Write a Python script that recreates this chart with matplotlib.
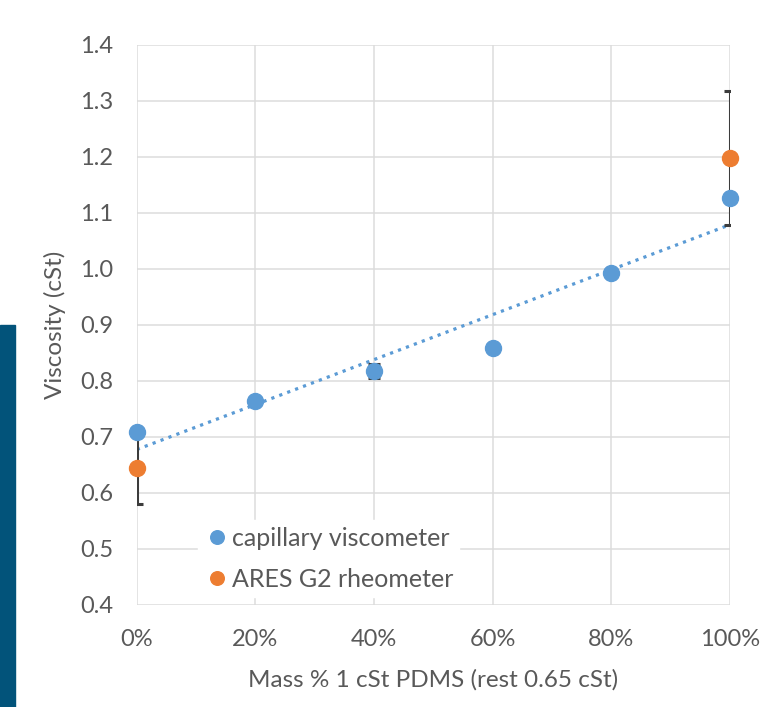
import matplotlib.pyplot as plt
import numpy as np
from matplotlib.patches import Rectangle

plt.rcParams['font.family'] = ['Lato', 'DejaVu Sans']

# mass fraction of 1 cSt PDMS
mass_pct = [0, 20, 40, 60, 80, 100]
cap_visc = [0.709, 0.765, 0.818, 0.859, 0.993, 1.126]
cap_err = [0, 0, 0.013, 0, 0, 0]

ares_pct = [0, 100]
ares_visc = [0.645, 1.198]
ares_err = [0.065, 0.12]

x_ticks = [0, 20, 40, 60, 80, 100]
y_ticks = [0.4, 0.5, 0.6, 0.7, 0.8, 0.9, 1.0, 1.1, 1.2, 1.3, 1.4]

blue = '#5B9BD5'
orange = '#ED7D31'
grey_txt = '#595959'

fig = plt.figure(figsize=(7.6, 7.07), dpi=100)
ax = fig.add_axes([0.180, 0.1443, 0.7805, 0.7921])

# dark side bar on the left edge
fig.patches.append(Rectangle((0, 0), 0.0197, 0.54, transform=fig.transFigure,
                             color='#02537A', zorder=0))

# linear trend of capillary data
k, b = np.polyfit(np.array(mass_pct) / 100, cap_visc, 1)
xs = np.array([0, 100])
ax.plot(xs, b + k * xs / 100, ':', color=blue, lw=2.3, zorder=2)

# error bars (clipped by axes, like the original), markers unclipped
ax.errorbar(mass_pct, cap_visc, yerr=cap_err, fmt='none', ecolor='#3c3c3c',
            elinewidth=2.2, capsize=4.5, capthick=2.2, zorder=3)
ax.errorbar(ares_pct, ares_visc, yerr=ares_err, fmt='none', ecolor='#3c3c3c',
            elinewidth=2.2, capsize=4.5, capthick=2.2, zorder=3)
ax.plot(ares_pct, ares_visc, 'o', color=orange, ms=11.5, clip_on=False,
        zorder=4, label='ARES G2 rheometer')
ax.plot(mass_pct, cap_visc, 'o', color=blue, ms=11.5, clip_on=False,
        zorder=5, label='capillary viscometer')

ax.set_xlim(0, 100)
ax.set_ylim(0.4, 1.4)
ax.set_xticks(x_ticks)
ax.set_xticklabels([f'{t}%' for t in x_ticks])
ax.set_yticks(y_ticks)
ax.set_yticklabels([f'{t:.1f}' for t in y_ticks])
ax.grid(True, color='#dcdcdc', lw=1.1)
ax.set_axisbelow(True)
for s in ax.spines.values():
    s.set_visible(False)
ax.tick_params(length=0, labelsize=17, colors=grey_txt, pad=17)

ax.set_xlabel('Mass % 1 cSt PDMS (rest 0.65 cSt)', fontsize=17.5,
              color=grey_txt, labelpad=14)
ax.set_ylabel('Viscosity (cSt)', fontsize=17.5, color=grey_txt, labelpad=10)

handles, labels = ax.get_legend_handles_labels()
order = [1, 0]
leg = ax.legend([handles[i] for i in order], [labels[i] for i in order],
                loc='lower left', bbox_to_anchor=(0.082, -0.008),
                frameon=True, fontsize=18, handletextpad=0.1, handlelength=1.0,
                labelspacing=0.72, markerscale=0.85, borderpad=0.25)
leg.get_frame().set_edgecolor('white')
leg.get_frame().set_facecolor('white')
leg.get_frame().set_alpha(1)
leg.get_frame().set_boxstyle('square', pad=0)
for t in leg.get_texts():
    t.set_color(grey_txt)

fig.savefig('out.png', dpi=100, facecolor='white')
